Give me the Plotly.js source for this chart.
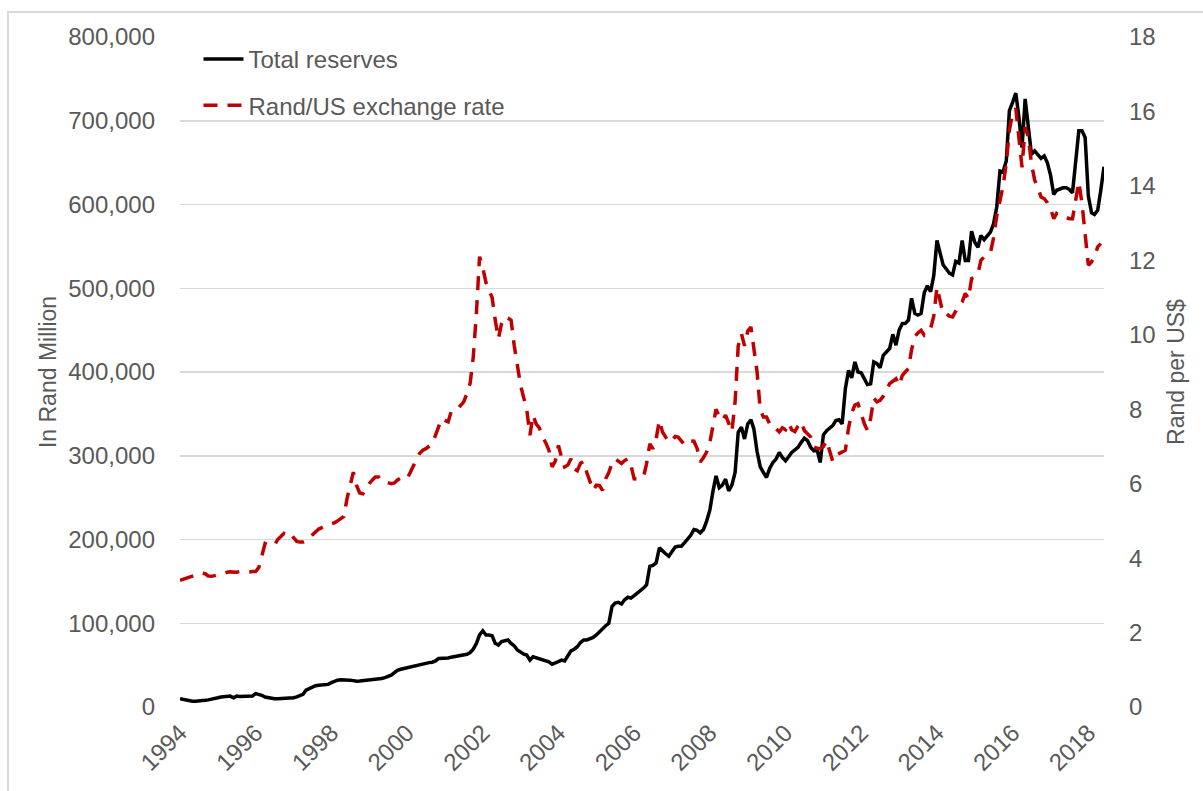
<!DOCTYPE html>
<html>
<head>
<meta charset="utf-8">
<script src="https://cdn.plot.ly/plotly-3.0.1.min.js"></script>
<style>
html, body { margin: 0; padding: 0; background: #ffffff; overflow: hidden; }
#chart { width: 1203px; height: 791px; }
#frame { position: absolute; left: 7px; top: 11px; width: 1196px; height: 780px;
         border-left: 2px solid #D9D9D9; border-top: 2px solid #D9D9D9; box-sizing: border-box; pointer-events: none; }
</style>
</head>
<body>
<div id="chart"></div>
<div id="frame"></div>
<script>
// Monthly series, January 1994 onwards
const startYear = 1994;

// Total reserves, in Rand million (one row per year)
const totalReserves = [
  10000, 9000, 8000, 7500, 7000, 7000, 7000, 7500, 8000, 8500, 9000, 10000,            // 1994
  11000, 12000, 12000, 12500, 13000, 11000, 13000, 12500, 12500, 12500, 13000, 13000,   // 1995
  16000, 15500, 14000, 12000, 11000, 10000, 10000, 10000, 10000, 10000, 10000, 11000,   // 1996
  11000, 12000, 13000, 15000, 20000, 22000, 24000, 25500, 26000, 26000, 27000, 27000,   // 1997
  29000, 31000, 32000, 32500, 32500, 32700, 32000, 31500, 30700, 31000, 31500, 31500,   // 1998
  32000, 32000, 32500, 33000, 34000, 35000, 36000, 38000, 41000, 43800, 45000, 46000,   // 1999
  47000, 48000, 49000, 50000, 51000, 51500, 52000, 53000, 53500, 55000, 57800, 58000,   // 2000
  58000, 58500, 59500, 60000, 60500, 61000, 61500, 63000, 65000, 69000, 76000, 86000,   // 2001
  91000, 86000, 86000, 85000, 76000, 74000, 78000, 79000, 80000, 76000, 73000, 68000,   // 2002
  65000, 63000, 62000, 56000, 60000, 59000, 58000, 57000, 56000, 54000, 51000, 53000,   // 2003
  55000, 56000, 55000, 62000, 67000, 69000, 72000, 77000, 80000, 80000, 81000, 83000,   // 2004
  86000, 90000, 94000, 97000, 100000, 120000, 124000, 125000, 123000, 128000, 131000, 130000, // 2005
  133000, 136000, 139000, 142000, 146000, 168000, 169000, 172000, 190000, 186000, 183000, 180000, // 2006
  185000, 191000, 192000, 192000, 196000, 200000, 205000, 212000, 211000, 208000, 212000, 222000, // 2007
  235000, 258000, 276000, 262000, 265000, 272000, 258000, 265000, 280000, 328000, 334000, 320000, // 2008
  338000, 343000, 332000, 305000, 287000, 280000, 274000, 285000, 292000, 296000, 304000, 298000, // 2009
  294000, 299000, 304000, 307000, 310000, 316000, 321000, 318000, 310000, 306000, 307000, 292000, // 2010
  325000, 330000, 333000, 336000, 342000, 343000, 338000, 380000, 402000, 393000, 412000, 400000, // 2011
  399000, 392000, 385000, 386000, 412000, 410000, 405000, 420000, 424000, 428000, 445000, 432000, // 2012
  450000, 458000, 458000, 462000, 488000, 470000, 468000, 470000, 495000, 503000, 496000, 515000, // 2013
  557000, 540000, 528000, 523000, 518000, 516000, 532000, 530000, 557000, 533000, 533000, 568000, // 2014
  555000, 549000, 563000, 558000, 562000, 567000, 577000, 597000, 640000, 639000, 652000, 712000, // 2015
  722000, 733000, 705000, 668000, 726000, 690000, 660000, 664000, 660000, 655000, 658000, 650000, // 2016
  635000, 612000, 617000, 619000, 620000, 620000, 618000, 614000, 650000, 688000, 688000, 680000, // 2017
  610000, 590000, 588000, 593000, 617000, 645000                                                   // 2018
];

// Rand per US dollar (one row per year)
const randPerUsd = [
  3.40, 3.43, 3.46, 3.49, 3.52, 3.55, 3.58, 3.60, 3.58, 3.52, 3.51, 3.54,   // 1994
  3.55, 3.57, 3.60, 3.62, 3.63, 3.62, 3.62, 3.64, 3.63, 3.63, 3.63, 3.64,   // 1995
  3.64, 3.75, 4.05, 4.39, 4.35, 4.34, 4.35, 4.50, 4.58, 4.66, 4.61, 4.66,   // 1996
  4.55, 4.45, 4.43, 4.43, 4.47, 4.52, 4.62, 4.70, 4.78, 4.82, 4.87, 4.90,   // 1997
  4.93, 4.95, 5.00, 5.05, 5.12, 5.60, 6.00, 6.31, 5.95, 5.75, 5.73, 5.88,   // 1998
  6.00, 6.10, 6.18, 6.18, 6.07, 6.05, 6.02, 6.00, 6.02, 6.10, 6.15, 6.13,   // 1999
  6.13, 6.30, 6.49, 6.65, 6.81, 6.90, 6.94, 7.00, 7.07, 7.30, 7.52, 7.75,   // 2000
  7.70, 7.66, 7.93, 7.95, 8.00, 8.11, 8.20, 8.42, 8.70, 9.40, 10.60, 12.10, // 2001
  11.80, 11.40, 11.20, 11.00, 10.40, 9.90, 10.30, 10.48, 10.45, 10.39, 9.70, 9.20, // 2002
  8.64, 8.30, 8.00, 7.30, 7.84, 7.60, 7.50, 7.25, 7.10, 6.90, 6.45, 6.60,   // 2003
  7.03, 6.70, 6.45, 6.50, 6.67, 6.40, 6.35, 6.55, 6.60, 6.30, 6.05, 5.82,   // 2004
  5.96, 5.95, 5.82, 6.13, 6.30, 6.55, 6.67, 6.60, 6.54, 6.62, 6.67, 6.49,   // 2005
  6.13, 6.12, 6.15, 6.18, 6.54, 7.07, 6.94, 7.20, 7.70, 7.39, 7.25, 7.12,   // 2006
  7.15, 7.27, 7.25, 7.16, 7.05, 7.15, 7.14, 7.14, 6.94, 6.58, 6.70, 6.85,   // 2007
  7.10, 7.60, 8.00, 7.80, 7.70, 7.84, 7.60, 7.40, 8.20, 9.70, 10.03, 9.70,  // 2008
  10.10, 10.21, 9.63, 9.00, 8.00, 7.79, 7.79, 7.60, 7.48, 7.48, 7.39, 7.50, // 2009
  7.45, 7.63, 7.45, 7.40, 7.55, 7.66, 7.43, 7.35, 7.25, 6.99, 6.95, 6.94,   // 2010
  7.00, 7.16, 6.90, 6.60, 6.76, 6.80, 6.85, 6.90, 7.50, 7.90, 8.11, 8.15,   // 2011
  7.88, 7.60, 7.43, 7.75, 8.30, 8.20, 8.24, 8.35, 8.50, 8.69, 8.75, 8.82,   // 2012
  8.64, 8.91, 9.00, 9.09, 9.60, 9.95, 10.05, 10.12, 9.99, 10.05, 10.17, 10.50, // 2013
  11.28, 10.93, 10.57, 10.57, 10.50, 10.48, 10.66, 10.80, 10.88, 11.11, 10.97, 11.51, // 2014
  11.55, 11.64, 12.00, 12.09, 12.14, 12.20, 12.60, 13.20, 13.60, 14.00, 14.60, 15.50, // 2015
  15.94, 16.08, 15.31, 14.50, 15.58, 15.31, 14.60, 14.15, 13.97, 13.70, 13.66, 13.55, // 2016
  13.39, 13.12, 13.26, 13.20, 13.17, 13.15, 13.12, 13.12, 13.70, 14.11, 13.52, 12.60, // 2017
  11.87, 11.96, 12.09, 12.36, 12.45                                                   // 2018
];

const tickYears = [1994, 1996, 1998, 2000, 2002, 2004, 2006, 2008, 2010, 2012, 2014, 2016, 2018];
const seriesNames = ['Total reserves', 'Rand/US exchange rate'];

function monthDate(i) {
  const y = startYear + Math.floor(i / 12);
  const m = (i % 12) + 1;
  return y + '-' + (m < 10 ? '0' + m : m) + '-01';
}
const datesRes = totalReserves.map((_, i) => monthDate(i));
const datesRate = randPerUsd.map((_, i) => monthDate(i));

const traces = [
  { x: datesRes, y: totalReserves, name: seriesNames[0], type: 'scatter', mode: 'lines',
    line: { color: '#000000', width: 3.5 }, yaxis: 'y', legendgroup: 'a' },
  { x: datesRate, y: randPerUsd, name: seriesNames[1], type: 'scatter', mode: 'lines',
    line: { color: '#C00000', width: 3.5, dash: '14px,10px' }, yaxis: 'y2', legendgroup: 'b' }
];

const grey = '#595959';
const layout = {
  width: 1203, height: 791,
  margin: { l: 180, r: 99, t: 37, b: 84, pad: 0 },
  paper_bgcolor: '#ffffff', plot_bgcolor: '#ffffff',
  font: { family: '"Liberation Sans", Arial, sans-serif', size: 24, color: grey },
  showlegend: true,
  legend: { x: 0.02, y: 1.0, xanchor: 'left', yanchor: 'top', bgcolor: 'rgba(0,0,0,0)',
            font: { size: 24, color: grey }, tracegroupgap: 12, itemwidth: 40 },
  xaxis: {
    type: 'date', range: [monthDate(0), monthDate(totalReserves.length - 1)],
    tickvals: tickYears.map(y => y + '-01-01'), ticktext: tickYears.map(String),
    tickangle: -45, showgrid: false, zeroline: false, showline: false, ticks: '',
    ticklabelstandoff: 6, tickfont: { size: 24, color: grey }, automargin: false
  },
  yaxis: {
    range: [0, 800000], dtick: 100000, tickformat: ',', showgrid: true, gridcolor: '#D9D9D9', gridwidth: 1.5,
    zeroline: false, showline: false, ticks: '', ticklabelstandoff: 24, automargin: false,
    tickfont: { size: 24, color: grey },
    title: { text: 'In Rand Million', font: { size: 23, color: grey }, standoff: 5 }
  },
  yaxis2: {
    overlaying: 'y', side: 'right', range: [0, 18], dtick: 2, showgrid: false, zeroline: false,
    showline: false, ticks: '', ticklabelstandoff: 24, automargin: false,
    tickfont: { size: 24, color: grey },
    title: { text: 'Rand per US$', font: { size: 23, color: grey }, standoff: 13 }
  }
};

Plotly.newPlot('chart', traces, layout, { displayModeBar: false, staticPlot: true });
</script>
</body>
</html>
